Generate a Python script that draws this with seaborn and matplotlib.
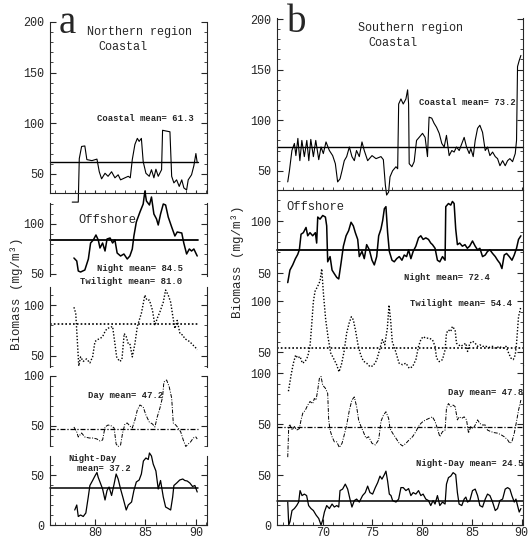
import pandas as pd
import seaborn as sns
import matplotlib.pyplot as plt
from matplotlib.ticker import MultipleLocator


# ---- Northern region (a) ----
n_coast_yr = [77.75, 78.35, 78.45, 78.68, 79.0, 79.2, 79.7, 80.2, 80.43, 80.66, 81.0, 81.3, 81.65, 81.98,
              82.3, 82.54, 82.97, 83.3, 83.5, 83.7, 83.96, 84.2, 84.38, 84.6, 84.78, 85.05, 85.38, 85.6,
              85.84, 86.04, 86.27, 86.6, 86.7, 86.93, 87.43, 87.6, 87.82, 88.09, 88.35, 88.6, 88.81,
              89.08, 89.24, 89.57, 89.8, 90.0, 90.13]
n_coast_val = [22, 22, 65, 77, 77.5, 64, 63, 64.5, 52, 45, 50.5, 47.5, 52, 46,
               49, 44, 46, 47.5, 46, 64, 79, 85, 82, 85, 62, 50.5, 47.5, 54,
               46, 54.5, 47.5, 54, 93, 92.5, 91.5, 47.5, 41, 44, 37.5, 44, 36,
               34, 44, 49, 58, 70, 61]

n_off_yr = [77.92, 78.2, 78.35, 78.58, 79.0, 79.35, 79.57, 79.84, 80.1, 80.33, 80.5, 80.76, 81.0, 81.2,
            81.5, 81.75, 81.98, 82.2, 82.54, 82.87, 83.2, 83.46, 83.7, 83.86, 84.1, 84.46, 84.78, 84.95,
            85.1, 85.4, 85.6, 85.84, 86.1, 86.27, 86.5, 86.77, 87.0, 87.26, 87.6, 87.92, 88.15, 88.6,
            88.8, 89.08, 89.35, 89.57, 89.8, 90.13]
n_off_val = [66, 63, 53, 52, 54, 65, 81, 84, 89, 84, 76, 81, 73, 85,
             86, 81, 84, 71, 68, 70, 65, 68, 75, 88, 102, 112, 120, 133,
             123, 119, 127, 110, 105, 99, 110, 120, 119, 107, 97, 88, 92, 91,
             81, 70, 75, 73, 75, 68]

n_twi_yr = [77.92, 78.1, 78.25, 78.4, 78.58, 78.84, 79.17, 79.5, 79.77, 80.0, 80.23, 80.5, 80.76, 81.0,
            81.2, 81.5, 81.75, 81.98, 82.15, 82.44, 82.67, 82.9, 83.1, 83.3, 83.46, 83.7, 83.96, 84.2,
            84.38, 84.6, 84.95, 85.15, 85.4, 85.7, 85.94, 86.17, 86.44, 86.77, 87.0, 87.26, 87.5, 87.7,
            87.92, 88.15, 88.42, 88.7, 88.9, 89.14, 89.4, 89.67, 89.9, 90.13]
n_twi_val = [98, 92, 66, 40, 49, 44.5, 47, 43, 49, 64, 66, 67, 69, 74,
             77, 78, 79, 62, 49, 44.5, 46, 72, 69, 62, 62, 49, 62, 79,
             85, 92, 110, 105, 105, 95, 80, 87, 93.5, 103, 115, 110, 103, 90,
             77, 85, 72, 70.5, 67, 65.5, 64, 61, 59, 56]

n_day_yr = [77.92, 78.2, 78.35, 78.68, 79.0, 79.44, 79.84, 80.2, 80.5, 80.76, 81.0, 81.3, 81.65, 81.9,
            82.1, 82.3, 82.54, 82.74, 82.97, 83.2, 83.46, 83.7, 83.96, 84.2, 84.46, 84.78, 85.05, 85.38,
            85.7, 85.94, 86.17, 86.44, 86.7, 86.83, 87.1, 87.36, 87.6, 87.76, 88.0, 88.25, 88.5, 88.75,
            89.0, 89.24, 89.47, 89.74, 90.0, 90.13]
n_day_val = [49, 44, 39, 43, 39, 38, 38, 37, 35, 36, 49, 51, 50, 48,
             32, 29.5, 31, 43, 52, 53, 50, 48, 56, 66, 71, 69, 61, 54,
             52, 49, 59, 68, 79, 94, 96, 89, 78, 53, 51, 48, 44, 36,
             29.5, 32, 34, 38, 39, 37]

n_nd_yr = [78.0, 78.2, 78.35, 78.58, 78.84, 79.1, 79.34, 79.5, 79.77, 80.0, 80.2, 80.33, 80.5, 80.76,
           81.0, 81.2, 81.4, 81.65, 81.9, 82.1, 82.3, 82.54, 82.8, 83.1, 83.3, 83.63, 83.86, 84.1,
           84.38, 84.6, 84.8, 85.05, 85.28, 85.4, 85.6, 85.77, 86.04, 86.27, 86.5, 86.77, 87.0, 87.26,
           87.5, 87.7, 87.82, 88.1, 88.4, 88.7, 88.9, 89.14, 89.4, 89.67, 89.9, 90.13]
n_nd_val = [15, 20, 8.5, 10, 8.5, 12, 28, 39.5, 44.5, 49, 52.5, 47.5, 43, 36,
            25, 34.5, 38, 29.5, 41, 51, 46, 36, 26.5, 15, 20, 23, 34.5, 43,
            45, 51, 64, 67, 65.5, 72, 69, 61, 54, 36, 44.5, 28, 18, 16.5,
            15, 28, 39.5, 42, 45, 46, 44.5, 44, 42, 38.5, 39.5, 33]

# ---- Southern region (b) ----
s_coast_yr = [66.48, 66.65, 66.9, 67.15, 67.3, 67.5, 67.7, 67.9, 68.15, 68.4,
              68.6, 68.8, 69.06, 69.3, 69.6, 69.83, 70.06, 70.33, 70.67, 71.0,
              71.27, 71.5, 71.74, 71.94, 72.17, 72.41, 72.68, 72.94, 73.18, 73.4,
              73.68, 73.95, 74.18, 74.52, 74.96, 75.36, 75.86, 76.1, 76.3, 76.43,
              76.63, 76.77, 77.03, 77.37, 77.54, 77.64, 77.87, 78.1, 78.37, 78.54,
              78.64, 78.7, 78.97, 79.2, 79.44, 79.7, 80.04, 80.3, 80.54, 80.7,
              80.97, 81.2, 81.45, 81.72, 81.98, 82.22, 82.45, 82.72, 82.99, 83.22,
              83.46, 83.73, 84.0, 84.23, 84.47, 84.74, 84.9, 85.14, 85.34, 85.58,
              85.81, 86.08, 86.35, 86.58, 86.82, 87.09, 87.36, 87.59, 87.83, 88.1,
              88.36, 88.6, 88.83, 89.1, 89.37, 89.5, 89.6, 89.77, 89.94]
s_coast_val = [39, 50, 70, 77, 65, 82, 60, 80, 64, 80,
               60, 81, 64, 80, 61, 73.5, 67, 78.5, 70, 65,
               57, 39, 42, 50, 60, 64, 73.5, 64, 60, 70,
               64, 78.5, 70, 60, 65, 62, 64, 61, 36, 26,
               29, 44, 50, 54, 52, 116, 121, 116, 121, 130,
               116, 57, 54, 59, 80, 83, 87, 83, 64, 103,
               102, 97, 93, 87, 77, 73.5, 85, 65, 70, 68.5,
               73.5, 70, 77, 83, 73.5, 67, 72, 64, 80, 92,
               95, 88, 70, 73.5, 65, 68.5, 64, 62, 55, 60,
               55, 60, 62, 59, 67, 80, 153, 159, 164]

s_off_yr = [66.48, 66.7, 66.98, 67.25, 67.48, 67.65, 67.82, 68.05, 68.32, 68.49,
            68.72, 68.99, 69.26, 69.39, 69.5, 69.73, 70.0, 70.27, 70.4, 70.5,
            70.74, 70.94, 71.17, 71.41, 71.61, 71.84, 72.08, 72.35, 72.61, 72.85,
            73.08, 73.28, 73.52, 73.68, 73.95, 74.18, 74.42, 74.69, 74.96, 75.19,
            75.43, 75.63, 75.86, 76.03, 76.2, 76.36, 76.53, 76.7, 76.97, 77.2,
            77.44, 77.7, 77.97, 78.2, 78.44, 78.64, 78.87, 79.1, 79.37, 79.64,
            79.87, 80.1, 80.37, 80.64, 80.87, 81.04, 81.3, 81.54, 81.78, 82.05,
            82.31, 82.38, 82.65, 82.88, 83.05, 83.22, 83.38, 83.55, 83.78, 84.05,
            84.31, 84.55, 84.78, 85.07, 85.34, 85.58, 85.81, 86.08, 86.35, 86.58,
            86.82, 87.09, 87.36, 87.59, 87.83, 88.03, 88.26, 88.5, 88.77, 89.04,
            89.27, 89.5, 89.7, 89.94]
s_off_val = [41, 53, 58, 64, 68, 72.5, 87.5, 89, 94, 86,
             89, 86, 89, 79, 104, 102, 105.5, 104, 95.5, 61,
             66, 53, 49.5, 46, 44.5, 59.5, 76, 86, 91, 99,
             95.5, 89, 82.5, 66, 71, 64, 77.5, 72.5, 62.5, 58,
             66, 86, 92.5, 100.5, 112, 114, 89, 71, 62.5, 61,
             64, 66, 62.5, 67.5, 66, 72.5, 64, 71, 76, 84,
             86, 82.5, 84, 82.5, 79, 77.5, 74, 62.5, 61, 66,
             62.5, 114, 117, 115.5, 119, 117, 92.5, 77.5, 79, 76,
             77.5, 74, 76, 81, 76, 72.5, 74, 66, 67.5, 71,
             72.5, 69, 66, 62.5, 59.5, 54.5, 67.5, 69, 66, 62.5,
             67.5, 74, 82.5, 86]

s_twi_yr = [66.55, 66.82, 67.05, 67.28, 67.48, 67.72, 67.95, 68.22, 68.49, 68.72,
            68.89, 69.06, 69.23, 69.5, 69.73, 69.9, 70.08, 70.3, 70.55, 70.8,
            71.07, 71.4, 71.64, 71.88, 72.15, 72.41, 72.65, 72.88, 73.08, 73.32,
            73.55, 73.82, 74.09, 74.42, 74.76, 75.09, 75.43, 75.76, 76.0, 76.24,
            76.5, 76.67, 76.84, 77.0, 77.24, 77.44, 77.68, 78.03, 78.37, 78.7,
            79.04, 79.37, 79.64, 79.87, 80.1, 80.37, 80.7, 81.04, 81.3, 81.45,
            81.72, 82.05, 82.31, 82.45, 82.65, 82.88, 83.05, 83.32, 83.46, 83.66,
            83.9, 84.13, 84.4, 84.57, 84.8, 85.07, 85.34, 85.58, 85.81, 86.08,
            86.41, 86.75, 87.09, 87.42, 87.76, 88.1, 88.43, 88.7, 88.93, 89.17,
            89.37, 89.5, 89.7, 89.94]
s_twi_val = [12, 28, 39.5, 47.5, 44.5, 46, 39.5, 41, 46, 56,
             77, 100, 110, 115, 120, 132, 106.5, 82, 64, 49.5,
             44.5, 38, 31, 38, 51, 69, 78.5, 85, 82, 70.5,
             57.5, 47.5, 41.5, 39.5, 36, 37, 42.5, 54, 62.5, 57.5,
             73.5, 96.5, 80.5, 60.5, 54, 47.5, 39.5, 38, 39.5, 34.5,
             36, 43, 56, 62.5, 65.5, 64, 64, 62.5, 56, 44.5,
             41, 43, 52.5, 69, 72, 70.5, 75.5, 72, 59, 57.5,
             56, 57.5, 59, 51, 59, 61, 59, 56, 57.5, 56,
             56, 55, 56, 54, 56, 54, 56, 49.5, 44.5, 43,
             47.5, 59, 85, 95]

s_day_yr = [66.48, 66.58, 66.71, 66.91, 67.15, 67.38, 67.65, 67.82, 67.99, 68.25,
            68.49, 68.72, 68.99, 69.16, 69.33, 69.5, 69.66, 69.83, 70.0, 70.27,
            70.5, 70.6, 70.74, 70.94, 71.17, 71.41, 71.67, 71.94, 72.17, 72.41,
            72.68, 72.94, 73.18, 73.41, 73.61, 73.85, 74.08, 74.35, 74.62, 74.96,
            75.29, 75.63, 75.86, 76.1, 76.36, 76.63, 76.77, 77.03, 77.37, 77.7,
            78.03, 78.37, 78.7, 79.04, 79.37, 79.64, 79.87, 80.1, 80.37, 80.7,
            81.04, 81.3, 81.54, 81.78, 82.05, 82.31, 82.45, 82.65, 82.88, 83.12,
            83.32, 83.55, 83.72, 83.99, 84.23, 84.47, 84.67, 84.9, 85.14, 85.34,
            85.58, 85.81, 86.08, 86.35, 86.58, 86.92, 87.26, 87.59, 87.93, 88.26,
            88.6, 88.83, 89.03, 89.27, 89.5, 89.7, 89.94]
s_day_val = [18, 48, 49.5, 44.5, 48, 44.5, 46, 54.5, 61, 64,
             69, 72.5, 70.5, 75.5, 74, 84, 95, 97, 88.5, 85.5,
             80.5, 54.5, 44.5, 38, 33, 33, 27.5, 31.5, 40, 49.5,
             64, 74, 77, 67.5, 54.5, 48, 43, 36.5, 38, 31.5,
             30, 35, 53, 59, 62.5, 56, 46, 41.5, 36.5, 31.5,
             29, 31.5, 35, 38, 43, 48, 51, 53, 54.5, 56,
             57.5, 53, 46, 38, 43, 44.5, 66, 70.5, 67.5, 69,
             67.5, 54.5, 57.5, 56, 57.5, 54.5, 41.5, 48, 46, 49.5,
             54.5, 51, 49.5, 49.5, 44.5, 43, 42, 41.5, 40, 38,
             35, 31.5, 33, 41.5, 53, 64, 74]

s_nd_yr = [66.48, 66.58, 66.71, 66.91, 67.15, 67.38, 67.58, 67.72, 67.92, 68.15,
           68.38, 68.58, 68.82, 69.06, 69.33, 69.6, 69.83, 70.0, 70.17, 70.4,
           70.67, 70.94, 71.17, 71.41, 71.61, 71.74, 72.0, 72.27, 72.51, 72.74,
           72.94, 73.18, 73.41, 73.68, 74.01, 74.28, 74.52, 74.75, 75.02, 75.29,
           75.53, 75.76, 75.96, 76.2, 76.36, 76.53, 76.7, 76.87, 77.03, 77.37,
           77.64, 77.87, 78.1, 78.37, 78.64, 78.87, 79.1, 79.37, 79.64, 79.87,
           80.1, 80.37, 80.64, 80.87, 81.1, 81.3, 81.54, 81.78, 82.05, 82.31,
           82.45, 82.65, 82.88, 83.12, 83.38, 83.55, 83.72, 83.99, 84.23, 84.4,
           84.57, 84.8, 85.07, 85.34, 85.58, 85.81, 86.08, 86.35, 86.58, 86.82,
           87.09, 87.36, 87.59, 87.83, 88.1, 88.36, 88.6, 88.83, 89.03, 89.27,
           89.44, 89.6, 89.77, 89.94]
s_nd_val = [23, 0, 3.5, 14.5, 16.5, 19.5, 23, 34.5, 29.5, 31,
            29.5, 19.5, 16.5, 14.5, 10, 6.5, 0, 5, 13, 19.5,
            16.5, 21, 18, 19.5, 18, 34.5, 36, 41, 36, 26,
            18, 24.5, 26, 23, 29.5, 32.5, 39, 32.5, 31, 37.5,
            42.5, 49, 46, 50.5, 54, 44, 31, 29.5, 24.5, 23,
            26, 37.5, 37.5, 34.5, 36.5, 29.5, 32.5, 31, 34.5, 29.5,
            31, 26, 24.5, 19.5, 24.5, 21, 29.5, 19.5, 23, 21,
            41, 47.5, 49, 52.5, 50.5, 32.5, 21, 19.5, 26, 28,
            23, 24.5, 34.5, 36, 29.5, 19.5, 18, 26, 31, 29.5,
            23, 14.5, 16.5, 24.5, 26, 36, 37.5, 36, 29.5, 23,
            26, 19.5, 13, 16.5]

n_means = [61.3, 84.5, 81.0, 47.2, 37.2]
s_means = [73.2, 72.4, 54.4, 47.8, 24.5]


# ---- style ----
sns.set_style('ticks')
plt.rcParams['font.family'] = ['Liberation Mono', 'DejaVu Sans Mono']
plt.rcParams['xtick.direction'] = 'in'
plt.rcParams['ytick.direction'] = 'in'

W, H = 532, 540
fig = plt.figure(figsize=(W / 100, H / 100), dpi=100)


def box(x0, y0, x1, y1):
    return fig.add_axes([x0 / W, 1 - y1 / H, (x1 - x0) / W, (y1 - y0) / H])


def txt(x, y, s, **kw):
    fig.text(x / W, 1 - y / H, s, **kw)


DOT = (0, (1, 1.3))
DASHDOT = (0, (4, 1.5, 1, 1.5))
styles = [('-', 0.8), ('-', 1.1), (DOT, 1.0), (DASHDOT, 0.7), ('-', 0.9)]


def panel(ax, yr, val, mean, ylim, yticks, style, xlim, xmajor, pos, mean_xmax):
    ls, lw = style
    df = pd.DataFrame({'year': yr, 'biomass': val})
    sns.lineplot(data=df, x='year', y='biomass', ax=ax, color='black',
                 linestyle=ls, lw=lw, estimator=None)
    ax.axhline(mean, xmin=0, xmax=mean_xmax, color='black', linestyle=ls, lw=lw + 0.2)
    for ln in ax.lines:
        ln.set_clip_on(False)
    ax.set_xlim(xlim)
    ax.set_ylim(ylim)
    ax.set_yticks(yticks)
    ax.yaxis.set_minor_locator(MultipleLocator(10))
    ax.tick_params(axis='y', which='both', left=True, right=True, labelsize=8.5)
    ax.tick_params(axis='y', which='major', length=4, pad=4)
    ax.tick_params(axis='y', which='minor', length=2)
    ax.set_xlabel('')
    ax.set_ylabel('')
    ax.set_facecolor('none')
    ax.spines['top'].set_visible(False)
    for s in ax.spines.values():
        s.set_linewidth(0.8)
    if pos == 'bottom':
        ax.set_xticks(xmajor)
        ax.xaxis.set_minor_locator(MultipleLocator(1))
        ax.tick_params(axis='x', which='major', length=4, pad=1.5, labelsize=8.5)
        ax.tick_params(axis='x', which='minor', length=2)
    elif pos == 'top':
        ax.set_xticks(xmajor)
        ax.xaxis.set_minor_locator(MultipleLocator(1))
        ax.tick_params(axis='x', which='both', labelbottom=False, length=2)
    else:
        ax.spines['bottom'].set_visible(False)
        ax.tick_params(axis='x', which='both', bottom=False, labelbottom=False)


# left column (Northern region)
n_series = [(n_coast_yr, n_coast_val), (n_off_yr, n_off_val), (n_twi_yr, n_twi_val),
            (n_day_yr, n_day_val), (n_nd_yr, n_nd_val)]
n_boxes = [(22, 193), (203, 276), (287, 367), (376, 446), (456, 525)]
n_ylims = [(31, 200), (48, 121), (39, 118), (30, 100), (0, 69)]
n_yticks = [[50, 100, 150, 200], [50, 100], [50, 100], [50, 100], [0, 50]]
positions = ['top', 'mid', 'mid', 'mid', 'bottom']

for i in range(5):
    ax = box(50, n_boxes[i][0], 207, n_boxes[i][1])
    panel(ax, *n_series[i], n_means[i], n_ylims[i], n_yticks[i], styles[i],
          (75.55, 91.1), [80, 85, 90], positions[i], 0.94)

# right column (Southern region)
s_series = [(s_coast_yr, s_coast_val), (s_off_yr, s_off_val), (s_twi_yr, s_twi_val),
            (s_day_yr, s_day_val), (s_nd_yr, s_nd_val)]
s_boxes = [(18, 190), (190, 280), (280, 365), (365, 450), (450, 525)]
s_ylims = [(31, 201), (43.5, 130), (37.7, 121), (25, 108.3), (0, 75.2)]
s_yticks = [[50, 100, 150, 200], [50, 100], [50, 100], [50, 100], [0, 50]]

for i in range(5):
    ax = box(277, s_boxes[i][0], 523, s_boxes[i][1])
    panel(ax, *s_series[i], s_means[i], s_ylims[i], s_yticks[i], styles[i],
          (65.4, 90.15), [70, 75, 80, 85, 90], positions[i], 1.0)

# text
serif = ['Liberation Serif', 'DejaVu Serif']
txt(59, 33, 'a', family=serif, fontsize=28, va='baseline', ha='left')
txt(287, 32, 'b', family=serif, fontsize=28, va='baseline', ha='left')

txt(87, 32, 'Northern region', fontsize=8.5, va='center')
txt(98, 47, 'Coastal', fontsize=8.5, va='center')
txt(358, 27.5, 'Southern region', fontsize=8.5, va='center')
txt(368, 43, 'Coastal', fontsize=8.5, va='center')

small = dict(fontsize=6.4, fontweight='bold', va='center')
txt(97, 118.5, 'Coastal mean= 61.3', **small)
txt(78, 220, 'Offshore', fontsize=8.7, va='center')
txt(97, 268.5, 'Night mean= 84.5', **small)
txt(80, 281, 'Twilight mean= 81.0', **small)
txt(88, 395, 'Day mean= 47.2', **small)
txt(68, 458.5, 'Night-Day', **small)
txt(77, 468.5, 'mean= 37.2', **small)

txt(419, 102.5, 'Coastal mean= 73.2', **small)
txt(286, 207, 'Offshore', fontsize=8.7, va='center')
txt(404, 277, 'Night mean= 72.4', **small)
txt(410, 303, 'Twilight mean= 54.4', **small)
txt(523, 392.5, 'Day mean= 47.8', ha='right', **small)
txt(523, 464, 'Night-Day mean= 24.5', ha='right', **small)

txt(17, 294, 'Biomass (mg/m³)', fontsize=9, rotation=90, ha='center', va='center')
txt(238, 262, 'Biomass (mg/m³)', fontsize=9, rotation=90, ha='center', va='center')

fig.savefig('out.png', dpi=100)
plt.close(fig)
